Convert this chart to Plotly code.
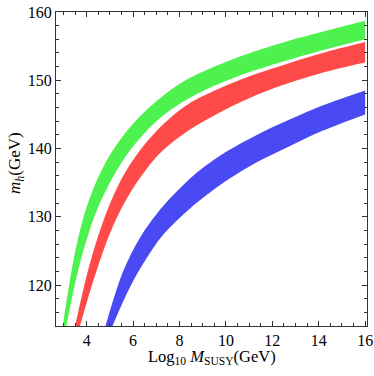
import plotly.graph_objects as go

# bordas das faixas: x = Log10 M_SUSY, y = m_h (GeV)
verde_x_sup = [2.95, 3.55, 4.12, 4.84, 5.56, 6.27, 6.99, 7.71, 8.42, 9.86, 11.29, 12.72, 14.16, 16.0]
verde_y_sup = [113.5, 125.6, 132.6, 138.1, 141.8, 144.6, 146.9, 148.8, 150.3, 152.5, 154.3, 155.8, 157.1, 158.7]
verde_x_inf = [3.10, 3.69, 4.41, 5.13, 5.84, 6.56, 7.28, 8.42, 9.86, 11.29, 12.72, 14.16, 16.0]
verde_y_inf = [113.5, 122.9, 130.7, 135.8, 139.6, 142.5, 144.8, 147.4, 149.7, 151.5, 153.0, 154.4, 156.0]

verm_x_sup = [3.47, 4.12, 4.84, 5.56, 6.27, 6.99, 7.71, 8.42, 9.86, 11.29, 12.72, 14.16, 16.0]
verm_y_sup = [113.5, 122.9, 130.5, 135.9, 139.6, 142.5, 144.8, 146.6, 149.0, 150.9, 152.5, 154.0, 155.6]
verm_x_inf = [3.67, 4.41, 5.13, 5.84, 6.56, 7.28, 8.42, 9.86, 11.29, 12.72, 14.16, 16.0]
verm_y_inf = [113.5, 121.9, 128.6, 133.3, 136.9, 139.7, 142.7, 145.5, 147.8, 149.6, 151.1, 152.6]

azul_x_sup = [4.77, 5.56, 6.27, 6.99, 7.71, 8.42, 9.14, 9.86, 11.29, 12.72, 14.16, 16.0]
azul_y_sup = [113.5, 121.9, 126.8, 130.3, 133.1, 135.5, 137.5, 139.2, 141.9, 144.2, 146.3, 148.5]
azul_x_inf = [5.05, 5.84, 6.56, 7.28, 8.42, 9.14, 9.86, 11.29, 12.72, 14.16, 16.0]
azul_y_inf = [113.5, 119.5, 123.8, 127.3, 131.1, 133.1, 134.9, 137.9, 140.3, 142.6, 145.0]

faixas = [
    (verde_x_sup, verde_y_sup, verde_x_inf, verde_y_inf, 'rgb(78,242,78)'),
    (verm_x_sup, verm_y_sup, verm_x_inf, verm_y_inf, 'rgb(255,74,74)'),
    (azul_x_sup, azul_y_sup, azul_x_inf, azul_y_inf, 'rgb(74,74,245)'),
]

fig = go.Figure()

for xs, ys, xi, yi, cor in faixas:
    # borda inferior (invisível) e borda superior preenchendo até ela
    fig.add_trace(go.Scatter(
        x=xi, y=yi, mode='lines',
        line=dict(width=0, color=cor, shape='spline', smoothing=1.0),
        showlegend=False, hoverinfo='skip'
    ))
    fig.add_trace(go.Scatter(
        x=xs, y=ys, mode='lines',
        fill='tonexty', fillcolor=cor,
        line=dict(width=0, color=cor, shape='spline', smoothing=1.0),
        showlegend=False, hoverinfo='skip'
    ))

familia = 'Liberation Serif, Times New Roman, serif'
fonte = dict(family=familia, size=16, color='black')

eixo = dict(
    showgrid=False, zeroline=False, automargin=False,
    showline=True, linecolor='#333', linewidth=1, mirror='ticks',
    ticks='inside', ticklen=5, tickcolor='#333',
    tickfont=fonte, ticklabeloverflow='allow',
)

fig.update_xaxes(
    **eixo,
    range=[2.68, 16.08],
    tick0=4, dtick=2,
    minor=dict(dtick=0.5, tick0=4, ticks='inside', ticklen=3, tickcolor='#333'),
)
fig.update_yaxes(
    **eixo,
    range=[114, 160],
    tick0=120, dtick=10,
    minor=dict(dtick=2, tick0=120, ticks='inside', ticklen=3, tickcolor='#333'),
)

# títulos dos eixos
fig.add_annotation(
    text='Log<sub>10</sub> <i>M</i><sub>SUSY</sub>(GeV)',
    xref='paper', yref='paper', x=0.5, y=-0.099,
    xanchor='center', yanchor='middle', showarrow=False,
    font=dict(family=familia, size=16.5, color='black')
)
fig.add_annotation(
    text='<i>m<sub>h</sub></i>(GeV)',
    xref='paper', yref='paper', x=-0.128, y=0.52,
    xanchor='center', yanchor='middle', showarrow=False, textangle=-90,
    font=dict(family=familia, size=17, color='black')
)

fig.update_layout(
    width=374, height=376,
    margin=dict(l=56, r=7, t=12, b=50),
    plot_bgcolor='white',
    paper_bgcolor='white',
    font=fonte,
)

# tira a margem padrão do body para a figura ocupar a janela toda
fig.write_html('out.html', config={'displayModeBar': False},
               post_script="document.body.style.margin='0';")
